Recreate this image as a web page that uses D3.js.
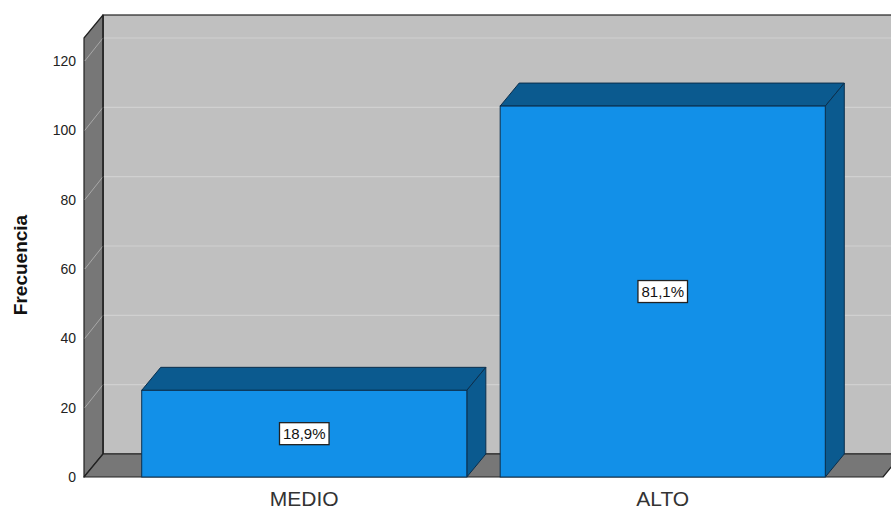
<!DOCTYPE html>
<html><head><meta charset="utf-8">
<script src="https://cdn.jsdelivr.net/npm/d3@7"></script>
<style>html,body{margin:0;padding:0;background:#fff;}svg{display:block;}</style>
</head><body>
<svg id="chart" width="891" height="509"></svg>
<script>
const categories = ["MEDIO", "ALTO"];
const values = [25, 107];
const percentLabels = ["18,9%", "81,1%"];
const yTicks = [0, 20, 40, 60, 80, 100, 120];
const yTitle = "Frecuencia";

const W = 891, H = 509;
const DX = 19, DY = 23;
const svg = d3.select("#chart");

const y = d3.scaleLinear().domain([0, 120]).range([477, 61]);
const x = d3.scaleBand().domain(categories).range([84, 883]).paddingInner(0.093).paddingOuter(0.161);

const left = 84, right = 883, y0 = y(0), yTop = 38;

// back wall
svg.append("rect").attr("x", left + DX).attr("y", yTop - DY).attr("width", W).attr("height", y0 - yTop)
  .attr("fill", "#c0c0c0").attr("stroke", "#222").attr("stroke-width", 1.2);
// gridlines on back wall
svg.append("g").selectAll("line").data(yTicks.filter(d => d > 0)).join("line")
  .attr("x1", left + DX).attr("x2", W + 20)
  .attr("y1", d => y(d) - DY).attr("y2", d => y(d) - DY)
  .attr("stroke", "#d0d0d0").attr("stroke-width", 1.2);
// left wall
svg.append("polygon")
  .attr("points", [[left, yTop], [left + DX, yTop - DY], [left + DX, y0 - DY], [left, y0]].join(" "))
  .attr("fill", "#777777").attr("stroke", "#222").attr("stroke-width", 1.2).attr("stroke-linejoin", "round");
svg.append("g").selectAll("line").data(yTicks.filter(d => d > 0)).join("line")
  .attr("x1", left + 0.8).attr("x2", left + DX)
  .attr("y1", d => y(d)).attr("y2", d => y(d) - DY)
  .attr("stroke", "#a8a8a8").attr("stroke-width", 1);
// floor
svg.append("polygon")
  .attr("points", [[left, y0], [left + DX, y0 - DY], [right + DX, y0 - DY], [right, y0]].join(" "))
  .attr("fill", "#777777").attr("stroke", "#222").attr("stroke-width", 1.2).attr("stroke-linejoin", "round");
svg.append("line").attr("x1", left + DX).attr("x2", left + DX).attr("y1", yTop - DY).attr("y2", y0 - DY)
  .attr("stroke", "#222").attr("stroke-width", 1.2);

// bars
const bars = svg.append("g").selectAll("g").data(categories.map((c, i) => ({c, v: values[i], p: percentLabels[i]}))).join("g");
bars.append("polygon").attr("points", d => {
  const x0 = x(d.c), x1 = x0 + x.bandwidth(), yv = y(d.v);
  return [[x0, yv], [x0 + DX, yv - DY], [x1 + DX, yv - DY], [x1, yv]].join(" ");
}).attr("fill", "#0b5a8f").attr("stroke", "#0b2f4d").attr("stroke-width", 1).attr("stroke-linejoin", "round");
bars.append("polygon").attr("points", d => {
  const x1 = x(d.c) + x.bandwidth(), yv = y(d.v);
  return [[x1, yv], [x1 + DX, yv - DY], [x1 + DX, y0 - DY], [x1, y0]].join(" ");
}).attr("fill", "#0b5a8f").attr("stroke", "#0b2f4d").attr("stroke-width", 1).attr("stroke-linejoin", "round");
bars.append("rect").attr("x", d => x(d.c)).attr("y", d => y(d.v))
  .attr("width", x.bandwidth()).attr("height", d => y0 - y(d.v))
  .attr("fill", "#1290e8").attr("stroke", "#0b2f4d").attr("stroke-width", 1);

// value labels
bars.each(function(d) {
  const g = d3.select(this);
  const cx = x(d.c) + x.bandwidth() / 2, cy = (y(d.v) + y0) / 2;
  const t = g.append("text").attr("x", cx).attr("y", cy + 5.5).attr("text-anchor", "middle")
    .attr("font-family", "Liberation Sans, Arial, sans-serif").attr("font-size", 15).attr("fill", "#111").text(d.p);
  const bb = t.node().getBBox();
  g.insert("rect", "text").attr("x", bb.x - 3.5).attr("y", cy - 11).attr("width", bb.width + 7).attr("height", 22)
    .attr("fill", "#fff").attr("stroke", "#222").attr("stroke-width", 1.3);
  t.raise();
});

// y ticks
svg.append("g").selectAll("text").data(yTicks).join("text")
  .attr("x", 76).attr("y", d => y(d) + 5).attr("text-anchor", "end")
  .attr("font-family", "Liberation Sans, Arial, sans-serif").attr("font-size", 14).attr("fill", "#222")
  .text(d => d);
// x labels
svg.append("g").selectAll("text").data(categories).join("text")
  .attr("x", d => x(d) + x.bandwidth() / 2).attr("y", 506).attr("text-anchor", "middle")
  .attr("font-family", "Liberation Sans, Arial, sans-serif").attr("font-size", 21).attr("fill", "#333")
  .text(d => d);
// y title
svg.append("text").attr("transform", "translate(27,265) rotate(-90)").attr("text-anchor", "middle")
  .attr("font-family", "Liberation Sans, Arial, sans-serif").attr("font-size", 19).attr("font-weight", "bold")
  .attr("fill", "#111").text(yTitle);
</script>
</body></html>
